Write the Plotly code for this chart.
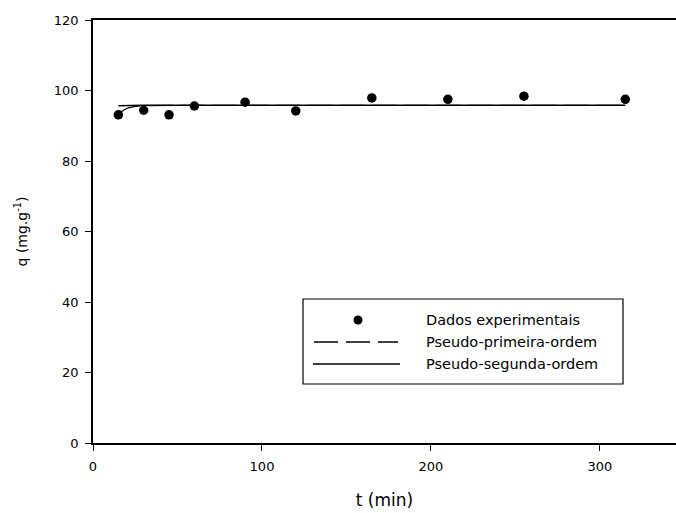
import plotly.graph_objects as go

# Experimental data
t_exp = [15, 30, 45, 60, 90, 120, 165, 210, 255, 315]
q_exp = [93.1, 94.4, 93.1, 95.6, 96.7, 94.2, 97.9, 97.5, 98.4, 97.5]

# Pseudo-first-order model curve
t_pfo = [15, 18, 21, 25, 30, 40, 60, 100, 200, 315]
q_pfo = [93.3, 94.4, 95.1, 95.5, 95.7, 95.8, 95.8, 95.8, 95.8, 95.8]

# Pseudo-second-order model curve
t_pso = [15, 20, 30, 60, 100, 200, 315]
q_pso = [95.7, 95.8, 95.8, 95.8, 95.8, 95.8, 95.8]

x_ticks = [0, 100, 200, 300]
y_ticks = [0, 20, 40, 60, 80, 100, 120]

labels = ["Dados experimentais", "Pseudo-primeira-ordem", "Pseudo-segunda-ordem"]

FONT = "DejaVu Sans, Verdana, sans-serif"

fig = go.Figure()
fig.add_trace(go.Scatter(x=t_pfo, y=q_pfo, mode="lines", name=labels[1],
                         line=dict(color="black", width=1.3, dash="24px,8px"),
                         showlegend=False))
fig.add_trace(go.Scatter(x=t_pso, y=q_pso, mode="lines", name=labels[2],
                         line=dict(color="black", width=1.5), showlegend=False))
fig.add_trace(go.Scatter(x=t_exp, y=q_exp, mode="markers", name=labels[0],
                         marker=dict(color="black", size=9.5, symbol="circle"),
                         showlegend=False))

# body margin is removed by the post script, so page pixels == figure pixels
W, H = 676, 513
L, R, T, B = 93, 0, 20, 513 - 443
pw, ph = W - L - R, H - T - B

def px(x):  # page pixel -> paper
    return (x - L) / pw

def py(y):
    return (H - B - y) / ph

shapes = []
# legend box
shapes.append(dict(type="rect", xref="paper", yref="paper",
                   x0=px(303), x1=px(623), y0=py(384), y1=py(299),
                   line=dict(color="black", width=1.2), fillcolor="white"))
# legend samples
rows = [320, 342, 364]
shapes.append(dict(type="circle", xref="paper", yref="paper",
                   x0=px(358 - 4.5), x1=px(358 + 4.5), y0=py(rows[0] + 4.5), y1=py(rows[0] - 4.5),
                   fillcolor="black", line=dict(color="black", width=0)))
shapes.append(dict(type="line", xref="paper", yref="paper",
                   x0=px(314), x1=px(398), y0=py(rows[1]), y1=py(rows[1]),
                   line=dict(color="black", width=1.3, dash="24px,8px")))
shapes.append(dict(type="line", xref="paper", yref="paper",
                   x0=px(313), x1=px(400), y0=py(rows[2]), y1=py(rows[2]),
                   line=dict(color="black", width=1.3)))

annotations = []
for lab, r in zip(labels, rows):
    annotations.append(dict(xref="paper", yref="paper", x=px(426), y=py(r),
                            text=lab, showarrow=False, xanchor="left", yanchor="middle",
                            xshift=-2, font=dict(family=FONT, size=14.5, color="black")))

fig.update_layout(
    width=W, height=H,
    margin=dict(l=L, r=R, t=T, b=B),
    paper_bgcolor="white", plot_bgcolor="white",
    font=dict(family=FONT, size=13, color="black"),
    xaxis=dict(range=[0, 345], tickvals=x_ticks, ticks="outside", ticklen=6,
               tickwidth=1.3, tickcolor="black", showline=True, linecolor="black",
               linewidth=1.5, mirror=True, showgrid=False, zeroline=False,
               ticklabelstandoff=5,
               title=dict(text="t (min)", font=dict(size=17), standoff=21),
               tickfont=dict(size=13)),
    yaxis=dict(range=[0, 120], tickvals=y_ticks, ticks="outside", ticklen=6,
               tickwidth=1.3, tickcolor="black", showline=True, linecolor="black",
               linewidth=1.5, showgrid=False, zeroline=False,
               ticklabelstandoff=4,
               title=dict(text="q (mg.g<sup>-1</sup>)", font=dict(size=14), standoff=23),
               tickfont=dict(size=13)),
    shapes=shapes, annotations=annotations,
    showlegend=False,
)

fig.write_html("out.html", config={"displayModeBar": False},
               post_script="document.body.style.margin='0';document.body.style.overflow='hidden';")
